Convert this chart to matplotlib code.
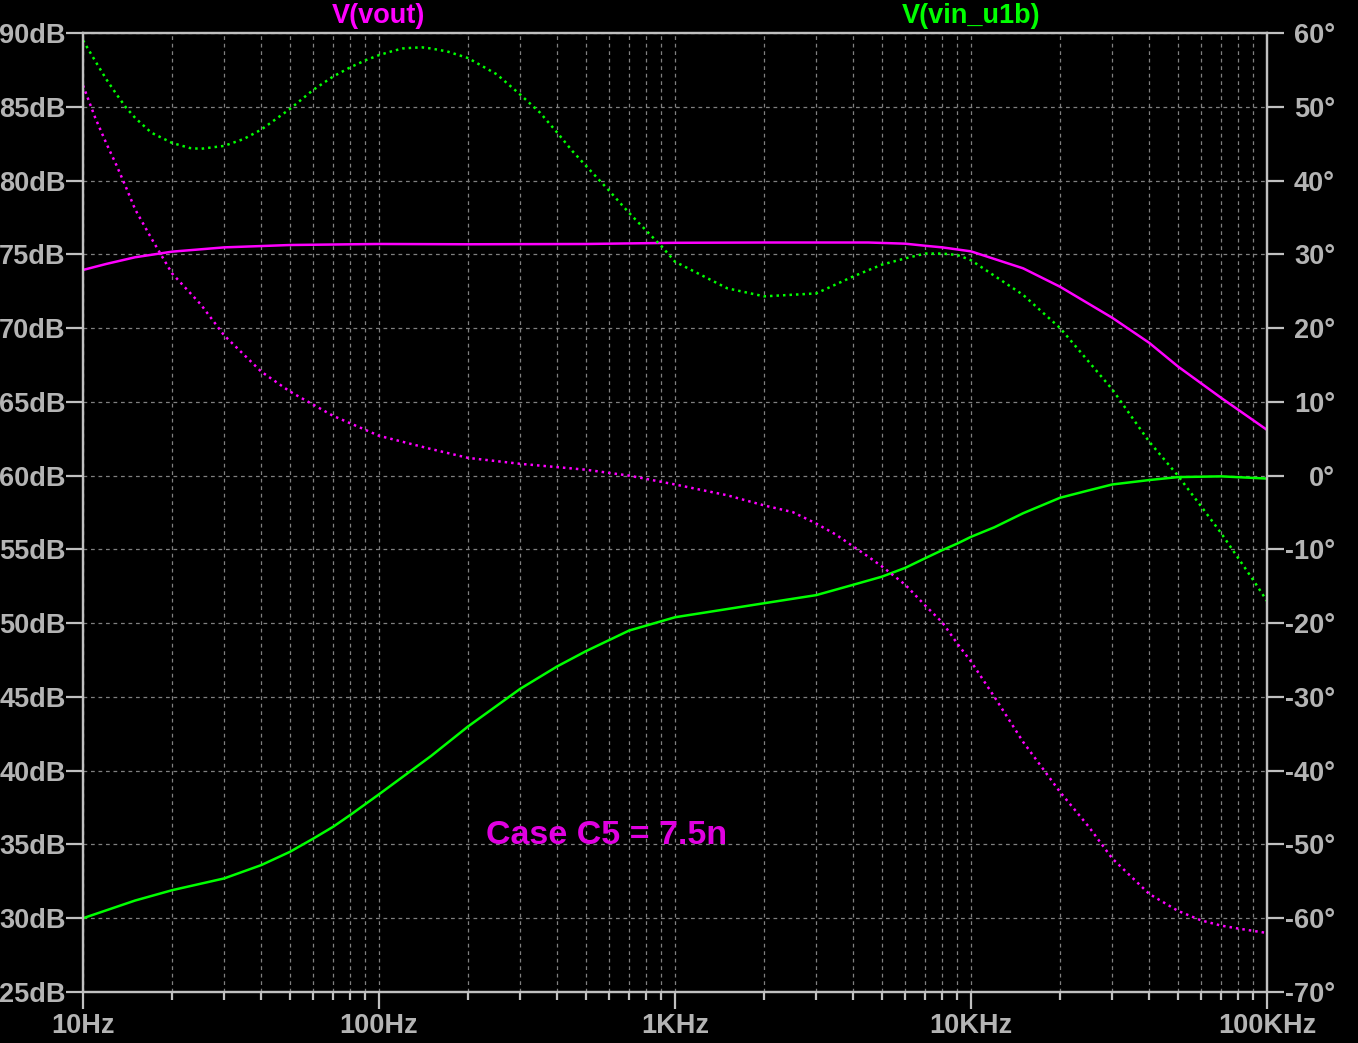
import numpy as np
import matplotlib.pyplot as plt
from matplotlib.ticker import LogLocator, NullFormatter

# V(vout) magnitude (dB)
f_vout_mag = [10, 12, 15, 20, 30, 50, 100, 200, 500, 1000, 2000, 4500, 6000, 7000, 8000,
              10000, 15000, 20000, 30000, 40000, 50000, 70000, 100000]
vout_mag = [73.94, 74.35, 74.8, 75.18, 75.47, 75.63, 75.7, 75.68, 75.7, 75.78, 75.8, 75.8,
            75.72, 75.58, 75.47, 75.2, 74.05, 72.8, 70.7, 69.0, 67.4, 65.27, 63.1]

# V(vout) phase (deg)
f_vout_ph = [10, 11, 12, 13, 14, 15, 17, 20, 25, 30, 40, 50, 70, 100, 150, 200, 300, 500,
             700, 1000, 1500, 2000, 2500, 3000, 3500, 4000, 4500, 5000, 6000, 7000, 8000,
             9000, 10000, 12000, 15000, 20000, 25000, 30000, 40000, 50000, 60000, 70000,
             80000, 100000]
vout_ph = [52.9, 48.5, 45.0, 42.0, 39.0, 36.1, 32.2, 27.4, 23.2, 19.0, 14.1, 11.4, 8.1,
           5.4, 3.6, 2.4, 1.6, 0.8, 0.0, -1.2, -2.66, -4.04, -4.95, -6.5, -8.0, -9.6,
           -11.0, -12.3, -14.8, -17.6, -19.9, -22.8, -25.2, -30.0, -36.1, -42.9, -47.6,
           -51.9, -56.7, -59.0, -60.3, -61.0, -61.4, -62.0]

# V(vin_u1b) magnitude (dB)
f_vin_mag = [10, 15, 20, 30, 40, 50, 60, 70, 80, 100, 150, 200, 300, 400, 500, 700,
             1000, 2000, 3000, 4000, 5000, 6000, 7000, 8000, 9000, 10000, 12000, 15000,
             20000, 25000, 30000, 40000, 50000, 70000, 100000]
vin_mag = [30.0, 31.2, 31.9, 32.7, 33.6, 34.5, 35.4, 36.2, 37.0, 38.4, 41.0, 43.0, 45.55,
           47.07, 48.1, 49.5, 50.4, 51.35, 51.9, 52.6, 53.15, 53.75, 54.4, 54.95, 55.4,
           55.85, 56.5, 57.45, 58.5, 59.0, 59.4, 59.7, 59.9, 59.95, 59.8]

# V(vin_u1b) phase (deg)
f_vin_ph = [10, 11, 12, 13, 14, 15, 17, 20, 23, 25, 30, 35, 40, 50, 60, 70, 80, 90, 100,
            110, 120, 130, 140, 150, 170, 200, 250, 300, 350, 400, 450, 500, 600, 700,
            800, 900, 1000, 1500, 2000, 3000, 4000, 5000, 6000, 7000, 8000, 9000, 10000,
            15000, 20000, 30000, 40000, 50000, 60000, 70000, 80000, 90000, 100000]
vin_ph = [59.0, 56.2, 53.7, 51.65, 49.85, 48.5, 46.5, 45.1, 44.4, 44.3, 44.7, 45.65, 46.9,
          49.7, 52.3, 54.1, 55.35, 56.3, 57.0, 57.5, 57.9, 58.0, 58.05, 57.9, 57.5, 56.6,
          54.4, 51.65, 49.2, 46.5, 44.0, 42.0, 38.6, 35.6, 33.2, 31.1, 29.0, 25.4, 24.3,
          24.7, 27.0, 28.6, 29.45, 30.1, 30.1, 29.9, 29.2, 24.5, 20.0, 11.7, 4.6, 0.0,
          -4.2, -7.8, -11.2, -14.2, -17.0]

x_ticks = [10, 100, 1000, 10000, 100000]
x_labels = ['10Hz', '100Hz', '1KHz', '10KHz', '100KHz']
db_ticks = list(range(25, 91, 5))
deg_ticks = list(range(-70, 61, 10))

MAG = '#ff00ff'
GRN = '#00ff00'
GRAY = '#b4b4b4'
FONT = 'Liberation Sans'

fig = plt.figure(figsize=(13.58, 10.43), dpi=100, facecolor='black')
ax = fig.add_axes([83 / 1358, 51 / 1043, 1184 / 1358, 959 / 1043])
ax.set_facecolor('black')
ax2 = ax.twinx()

ax.set_xscale('log')
ax.set_xlim(10, 100000)
ax.set_ylim(25, 90)
ax2.set_ylim(-70, 60)

# grid
ax.xaxis.set_minor_locator(LogLocator(base=10, subs=np.arange(2, 10)))
ax.xaxis.set_minor_formatter(NullFormatter())
ax.grid(which='both', axis='x', color='#808080', linestyle=(0, (3, 3)), linewidth=0.9)
ax.grid(which='major', axis='y', color='#808080', linestyle=(0, (3, 3)), linewidth=0.9)

# curves
ax.plot(f_vout_mag, vout_mag, color=MAG, lw=1.8)
ax.plot(f_vin_mag, vin_mag, color=GRN, lw=1.8)
ax2.plot(f_vout_ph, vout_ph, color=MAG, lw=1.8, linestyle=(0, (1, 1.6)))
ax2.plot(f_vin_ph, vin_ph, color=GRN, lw=1.8, linestyle=(0, (1, 1.6)))

# ticks
ax.set_xticks(x_ticks)
ax.set_xticklabels(x_labels)
ax.set_yticks(db_ticks)
ax.set_yticklabels([f'{v}dB' for v in db_ticks])
ax2.set_yticks(deg_ticks)
ax2.set_yticklabels([f'{v}°' for v in deg_ticks])

for a in (ax, ax2):
    for s in a.spines.values():
        s.set_color('#c0c0c0')
        s.set_linewidth(1.6)
    a.tick_params(which='major', color='#c0c0c0', width=1.6, length=12,
                  labelcolor=GRAY, labelsize=19.5)
    a.tick_params(which='minor', color='#c0c0c0', width=1.6, length=6)
ax.tick_params(axis='y', pad=0.5)
ax2.tick_params(axis='y', pad=37)
ax.tick_params(axis='x', pad=3)
for lab in ax.get_xticklabels() + ax.get_yticklabels() + ax2.get_yticklabels():
    lab.set_fontfamily(FONT)
    lab.set_fontweight('bold')
for lab in ax2.get_yticklabels():
    lab.set_horizontalalignment('right')

# trace names
fig.text(379 / 1358, 1 - 16 / 1043, 'V(vout)', color=MAG, fontsize=19.5, fontweight='bold',
         family=FONT, ha='center', va='center')
fig.text(971 / 1358, 1 - 16 / 1043, 'V(vin_u1b)', color=GRN, fontsize=19.5, fontweight='bold',
         family=FONT, ha='center', va='center')

ax.text(230, 35.64, 'Case C5 = 7.5n', color='#e000e0', fontsize=24.5, fontweight='bold',
        family=FONT, ha='left', va='center')

fig.savefig('out.png', dpi=100, facecolor='black')
